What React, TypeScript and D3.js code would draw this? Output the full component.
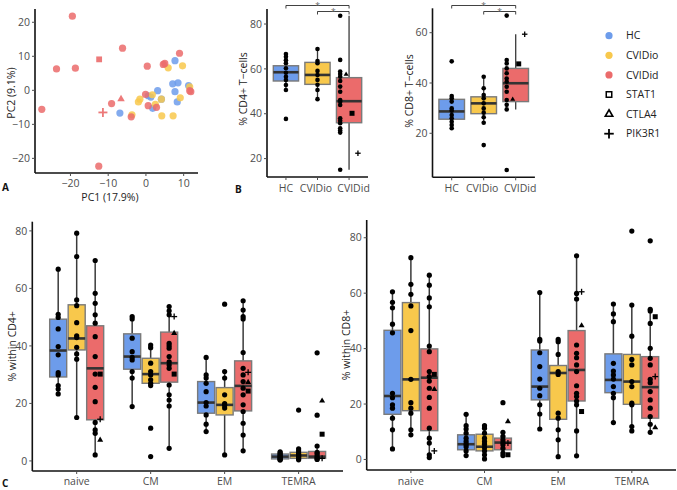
import React from "react";
import * as d3 from "d3";

const FONT = "'Open Sans', 'DejaVu Sans', sans-serif";
const groups = ["HC", "CVIDio", "CVIDid"];
const groupColors = ["#6D9CEB", "#F8C84C", "#EB6B6B"];
const mutations = ["STAT1", "CTLA4", "PIK3R1"];
const subsets = ["naive", "CM", "EM", "TEMRA"];

// ---------- Panel A (PCA) ----------
const pcaXTicks = [-20, -10, 0, 10];
const pcaYTicks = [-20, -10, 0, 10, 20];
const pcaHC = [[7.7, 8.7], [7.1, 1.9], [8.5, 2.2], [11.3, 1.4], [7.7, -0.4], [8.3, -3.4], [3.1, -0.1], [4.1, -2.6], [0.6, -1.6], [1.3, -2.0], [1.8, -5.3], [-6.9, -6.7]];
const pcaCVIDio = [[5.9, 6.6], [9.7, 7.2], [11.6, 1.0], [9.1, -2.2], [7.2, -7.5], [4.2, -7.5], [4.1, -2.6], [1.7, -1.3], [2.5, -4.1], [-1.6, -2.6], [-2.0, -3.4], [-3.7, -7.2]];
const pcaCVIDid = [[-19.5, 21.8], [-23.7, 6.3], [-18.7, 6.5], [-6.2, 12.4], [0.35, 7.1], [4.6, 7.6], [5.0, 7.9], [8.9, 10.9], [11.9, -0.4], [11.6, -0.1], [-0.1, -1.2], [0.6, -4.5], [2.8, -5.0], [-3.9, -7.8], [-9.1, -3.9], [-27.6, -5.6], [-12.5, -22.3]];
const pcaMutations = [[-12.4, 9.1], [-6.6, -2.6], [-11.4, -6.5]]; // STAT1, CTLA4, PIK3R1

// ---------- Panel B ----------
const cd4Ticks = [20, 40, 60, 80];
const cd8Ticks = [20, 40, 60];
const cd4HC = [66.6, 65.4, 63.9, 62.5, 60.3, 58.3, 56.5, 55.0, 52.8, 50.6, 37.7];
const cd4CVIDio = [68.9, 63.5, 62.5, 59.1, 57.3, 55.1, 52.9, 50.6, 46.5];
const cd4CVIDid = [83.7, 64.0, 58.8, 57.7, 56.5, 54.6, 52.1, 49.8, 46.1, 45.4, 43.9, 38.0, 36.9, 35.8, 33.5, 32.5, 31.6, 15.0];
const cd4Mut = [40.2, 57.6, 22.4];
// [q1, median, q3, whiskerLow, whiskerHigh]
const cd4Box = [[54.6, 58.5, 61.4, 50.6, 66.6], [53.1, 57.3, 62.9, 46.5, 68.9], [36.0, 45.6, 56.1, 15.0, 83.7]];
const cd8HC = [48.6, 34.8, 33.9, 32.6, 29.9, 29.0, 27.3, 26.0, 24.6, 23.3, 22.0];
const cd8CVIDio = [42.5, 37.9, 35.2, 33.9, 31.9, 29.9, 28.2, 26.4, 24.2, 15.3];
const cd8CVIDid = [66.8, 49.1, 47.8, 45.8, 43.9, 41.8, 40.5, 38.5, 36.5, 33.2, 31.3, 29.5, 5.4];
const cd8Mut = [47.6, 33.5, 59.4];
const cd8Box = [[25.6, 28.7, 33.5, 22.0, 34.8], [27.8, 31.9, 34.5, 24.2, 42.5], [32.6, 39.9, 45.8, 29.5, 59.4]];

// ---------- Panel C (CD4) ----------
const cTicks = [0, 20, 40, 60, 80];
const c4HC = [
  [66.7, 51.0, 49.9, 45.9, 39.8, 36.9, 30.7, 29.9, 26.2, 25.0, 23.3],
  [50.2, 49.4, 42.7, 38.0, 36.0, 35.1, 31.1, 28.8, 18.9],
  [36.0, 29.9, 28.8, 27.0, 24.1, 20.3, 19.1, 16.0, 12.8, 10.2],
  [3.2, 2.8, 2.4, 2.0, 1.6, 1.3, 1.0, 0.7, 0.5, 0.3],
];
const c4CVIDio = [
  [79.2, 71.1, 56.0, 54.0, 48.1, 43.5, 42.9, 39.5, 37.2, 35.4, 15.1],
  [40.3, 39.4, 34.0, 31.1, 29.9, 28.2, 27.0, 26.2, 11.4, 1.5],
  [54.5, 31.1, 28.8, 23.0, 19.9, 19.4, 18.4, 2.1],
  [17.7, 4.2, 3.5, 2.8, 2.3, 1.9, 1.5, 1.2, 0.8, 0.4],
];
const c4CVIDid = [
  [69.7, 58.3, 54.8, 50.8, 47.9, 43.2, 36.3, 30.2, 25.6, 20.6, 13.4, 10.8, 9.6, 2.1],
  [53.7, 52.2, 50.8, 40.9, 40.1, 39.2, 36.3, 34.5, 33.4, 32.2, 26.4, 23.0, 21.2, 19.1, 4.4],
  [55.7, 52.5, 50.2, 49.4, 37.7, 32.2, 29.9, 27.6, 25.3, 23.0, 19.5, 17.2, 13.1, 9.0, 3.5],
  [37.6, 15.9, 5.2, 3.0, 2.5, 1.8, 1.2, 0.8, 0.5],
];
const c4BoxHC = [[29.2, 38.4, 49.3, 23.3, 66.7], [31.9, 36.3, 44.2, 18.9, 50.2], [16.6, 20.3, 27.6, 10.2, 36.0], [0.7, 1.5, 2.4, 0.3, 3.2]];
const c4BoxCVIDio = [[38.6, 42.6, 54.3, 15.1, 79.2], [27.0, 30.2, 35.7, 26.2, 40.3], [16.0, 19.5, 25.5, 2.1, 31.1], [0.9, 1.9, 3.0, 0.3, 4.2]];
const c4BoxCVIDid = [[14.3, 32.2, 47.0, 2.1, 69.7], [27.4, 34.0, 44.8, 4.4, 53.7], [17.4, 26.1, 34.8, 3.5, 55.7], [0.9, 1.5, 3.3, 0.3, 5.2]];
const c4STAT1 = [30.2, 30.2, 24.3, 9.3];
const c4CTLA4 = [7.3, 44.4, 27.4, 20.9];
const c4PIK3R1 = [14.5, 50.2, 30.8, 0.9];

// ---------- Panel C (CD8) ----------
const c8HC = [
  [60.5, 56.7, 54.7, 48.8, 45.7, 23.9, 22.3, 19.7, 18.5, 14.9, 10.7, 3.8],
  [16.3, 12.2, 11.0, 9.5, 7.7, 6.5, 5.5, 4.6, 3.1, 1.4],
  [60.2, 43.3, 42.7, 38.5, 33.5, 29.0, 25.7, 23.0, 19.7, 16.4, 11.0],
  [56.1, 52.5, 49.7, 34.7, 31.9, 30.5, 29.0, 26.3, 23.9, 22.3, 13.3],
];
const c8CVIDio = [
  [72.8, 63.2, 59.6, 55.4, 46.5, 28.9, 20.5, 18.5, 16.7, 10.7, 8.9],
  [12.2, 11.3, 9.5, 7.7, 6.5, 5.5, 4.3, 3.1, 1.7, 0.2],
  [43.3, 42.5, 37.9, 31.7, 30.7, 16.7, 14.9, 10.7, 7.1, 1.0],
  [82.4, 55.7, 44.5, 36.1, 34.1, 28.1, 26.3, 20.3, 19.7, 11.9, 10.3],
];
const c8CVIDid = [
  [66.5, 62.9, 58.3, 55.1, 40.9, 38.9, 31.7, 29.9, 28.3, 25.7, 22.4, 18.5, 11.3, 7.7, 5.9, 1.7, 0.7],
  [20.5, 9.8, 8.3, 7.1, 6.1, 5.3, 4.0, 2.3, 1.4],
  [73.5, 59.9, 57.9, 41.3, 38.3, 36.7, 34.1, 31.7, 26.6, 23.9, 22.7, 21.1, 19.7, 10.3, 1.3],
  [78.9, 54.2, 53.6, 49.1, 40.1, 36.5, 34.1, 28.9, 27.7, 24.5, 21.5, 18.5, 15.5, 12.7, 9.8],
];
const c8BoxHC = [[16.3, 22.9, 46.6, 3.8, 60.5], [3.5, 5.5, 8.9, 1.4, 16.3], [21.5, 26.3, 39.5, 11.0, 60.2], [24.1, 28.7, 38.1, 13.3, 56.1]];
const c8BoxCVIDio = [[17.6, 28.9, 56.6, 8.9, 72.8], [3.1, 4.6, 9.1, 0.2, 12.5], [14.5, 31.2, 33.9, 1.0, 43.3], [19.9, 28.1, 37.9, 10.3, 55.7]];
const c8BoxCVIDid = [[10.4, 29.5, 39.9, 0.7, 66.5], [3.5, 6.1, 7.7, 1.4, 9.8], [21.1, 32.3, 46.5, 1.3, 73.5], [14.9, 26.1, 37.1, 9.8, 54.2]];
const c8STAT1 = [30.7, 1.7, 17.3, 51.5];
const c8CTLA4 = [25.3, 13.7, 48.3, 11.5];
const c8PIK3R1 = [3.1, 5.9, 60.5, 29.9];

const TICK_COL = "#4d4d4d";
const AXIS_COL = "#111";
const BOX_STROKE = "#7a7a7a";
const WHISK = "#3a3a3a";
const MEDIAN = "#333";

function Mark({ kind, x, y, s, color, hollow }: any) {
  if (kind === 0) {
    return <rect x={x - s / 2} y={y - s / 2} width={s} height={s} fill={hollow ? "none" : color} stroke={hollow ? color : "none"} strokeWidth={1.5} />;
  }
  if (kind === 1) {
    const h = s * 0.866;
    const d = `M${x},${y - (2 * h) / 3}L${x + s / 2},${y + h / 3}L${x - s / 2},${y + h / 3}Z`;
    return <path d={d} fill={hollow ? "none" : color} stroke={hollow ? color : "none"} strokeWidth={1.6} strokeLinejoin="miter" />;
  }
  const r = s / 2;
  return (
    <g stroke={color} strokeWidth={hollow ? 1.8 : 1.3}>
      <line x1={x - r} x2={x + r} y1={y} y2={y} />
      <line x1={x} x2={x} y1={y - r} y2={y + r} />
    </g>
  );
}

function YAxis({ scale, x, ticks, top, bottom, gap = 5 }: any) {
  return (
    <g>
      <line x1={x} x2={x} y1={top} y2={bottom} stroke={AXIS_COL} strokeWidth={1.6} />
      {ticks.map((t: number) => (
        <g key={t}>
          <line x1={x - 3} x2={x} y1={scale(t)} y2={scale(t)} stroke={TICK_COL} strokeWidth={1} />
          <text x={x - gap} y={scale(t)} dy="0.35em" textAnchor="end" fontSize={10.5} fill={TICK_COL} fontFamily={FONT}>
            {t < 0 ? "\u2212" + Math.abs(t) : t}
          </text>
        </g>
      ))}
    </g>
  );
}

function XAxis({ y, x0, x1, ticks, labelY }: any) {
  return (
    <g>
      <line x1={x0} x2={x1} y1={y} y2={y} stroke={AXIS_COL} strokeWidth={1.6} />
      {ticks.map((t: any, i: number) => (
        <g key={i}>
          <line x1={t.x} x2={t.x} y1={y} y2={y + 3} stroke={TICK_COL} strokeWidth={1} />
          <text x={t.x + (t.dx || 0)} y={labelY} textAnchor="middle" fontSize={10.5} fill={TICK_COL} fontFamily={FONT}>
            {t.label}
          </text>
        </g>
      ))}
    </g>
  );
}

function Box({ cx, w, stats, y, fill, whiskW = 1.3 }: any) {
  const [q1, med, q3, lo, hi] = stats;
  return (
    <g>
      <line x1={cx} x2={cx} y1={y(hi)} y2={y(q3)} stroke={WHISK} strokeWidth={whiskW} />
      <line x1={cx} x2={cx} y1={y(q1)} y2={y(lo)} stroke={WHISK} strokeWidth={whiskW} />
      <rect x={cx - w / 2} y={y(q3)} width={w} height={Math.max(0.5, y(q1) - y(q3))} fill={fill} stroke={BOX_STROKE} strokeWidth={1.4} />
      <line x1={cx - w / 2} x2={cx + w / 2} y1={y(med)} y2={y(med)} stroke={MEDIAN} strokeWidth={2.6} />
    </g>
  );
}

function PanelA() {
  const x = d3.scaleLinear().domain([-29.4, 13.8]).range([35, 198]);
  const y = d3.scaleLinear().domain([-24.3, 23.9]).range([173, 9]);
  const sets = [pcaHC, pcaCVIDio, pcaCVIDid];
  return (
    <g>
      {sets.map((pts, gi) =>
        pts.map((p, i) => <circle key={gi + "-" + i} cx={x(p[0])} cy={y(p[1])} r={3.6} fill={groupColors[gi]} fillOpacity={0.85} />)
      )}
      {pcaMutations.map((p, k) => (
        <g key={"m" + k} opacity={0.9}>
          <Mark kind={k} x={x(p[0])} y={y(p[1])} s={k === 2 ? 9 : k === 1 ? 7.5 : 5.8} color={groupColors[2]} hollow={k === 2} />
        </g>
      ))}
      <YAxis scale={y} x={35} ticks={pcaYTicks} top={9} bottom={173} />
      <XAxis y={173} x0={35} x1={198} ticks={pcaXTicks.map((t) => ({ x: x(t), label: t < 0 ? "\u2212" + Math.abs(t) : String(t) }))} labelY={187} />
      <text transform="translate(15,93) rotate(-90)" textAnchor="middle" fontSize={10.5} fill="#222" fontFamily={FONT}>{"PC2 (9.1%)"}</text>
      <text x={110} y={201} textAnchor="middle" fontSize={10.5} fill="#222" fontFamily={FONT}>{"PC1 (17.9%)"}</text>
    </g>
  );
}

const bLabelShift = [0, -1.5, 4.5];

function PanelB({ x0, x1, yDomain, top, bottom, ticks, pts, boxes, muts, title, titleX, titleY }: any) {
  const x = d3.scalePoint().domain(groups).range([x0, x1]).padding(0.6);
  const step = x.step();
  const y = d3.scaleLinear().domain(yDomain).range([bottom, top]);
  const bw = step * 0.8;
  const dodge = step * 0.1875;
  const cid = x("CVIDid")!;
  const hcx = x("HC")!;
  const iox = x("CVIDio")!;
  return (
    <g>
      {groups.map((g, gi) => (
        <Box key={g} cx={x(g)} w={bw} stats={boxes[gi]} y={y} fill={groupColors[gi]} whiskW={1.3} />
      ))}
      {pts.map((arr: number[], gi: number) =>
        arr.map((v, i) => (
          <circle key={gi + "-" + i} cx={gi === 2 ? cid - 1.5 * dodge : x(groups[gi])!} cy={y(v)} r={2.3} fill="#000" />
        ))
      )}
      {muts.map((v: number, k: number) => (
        <Mark key={k} kind={k} x={cid + (k === 0 ? 0.5 : k === 1 ? -0.5 : 1.5) * dodge} y={y(v)} s={k === 2 ? 5.5 : 5} color="#000" />
      ))}
      <YAxis scale={y} x={x0} ticks={ticks} top={top} bottom={bottom} />
      <XAxis y={bottom} x0={x0} x1={x1} ticks={groups.map((g, i) => ({ x: x(g), label: g, dx: bLabelShift[i] }))} labelY={191.5} />
      <text transform={`translate(${titleX},${titleY}) rotate(-90)`} textAnchor="middle" fontSize={10.5} fill="#222" fontFamily={FONT}>{title}</text>
      {/* significance brackets */}
      <g stroke="#111" strokeWidth={0.8} fill="none">
        <path d={`M${hcx},8.5V5.5H${cid}V8.5`} />
        <path d={`M${iox},14.5V11.5H${cid}V14.5`} />
      </g>
      <text x={(hcx + cid) / 2} y={9} textAnchor="middle" fontSize={8.5} fill="#666" fontFamily={FONT}>*</text>
      <text x={(iox + cid) / 2} y={15} textAnchor="middle" fontSize={8.5} fill="#666" fontFamily={FONT}>*</text>
    </g>
  );
}

function PanelC({ x0, x1, yDomain, top, bottom, pts, boxes, muts, title, titleX }: any) {
  const x = d3.scalePoint().domain(subsets).range([x0, x1]).padding(0.6);
  const step = x.step();
  const slot = step * 0.25;
  const bw = step * 0.23;
  const y = d3.scaleLinear().domain(yDomain).range([bottom, top]);
  return (
    <g>
      {subsets.map((s, si) =>
        groups.map((g, gi) => (
          <Box key={s + g} cx={x(s)! + (gi - 1) * slot} w={bw} stats={boxes[gi][si]} y={y} fill={groupColors[gi]} whiskW={1.5} />
        ))
      )}
      {subsets.map((s, si) =>
        groups.map((g, gi) =>
          pts[gi][si].map((v: number, i: number) => (
            <circle key={s + g + i} cx={x(s)! + (gi - 1) * slot} cy={y(v)} r={2.6} fill="#000" />
          ))
        )
      )}
      {subsets.map((s, si) =>
        muts.map((arr: number[], k: number) => (
          <Mark key={s + k} kind={k} x={x(s)! + slot + 5} y={y(arr[si])} s={k === 2 ? 6 : k === 1 ? 6 : 5} color="#000" />
        ))
      )}
      <YAxis scale={y} x={x0} ticks={cTicks} top={top} bottom={bottom} />
      <XAxis y={bottom} x0={x0} x1={x1} ticks={subsets.map((s) => ({ x: x(s), label: s }))} labelY={484.5} />
      <text transform={`translate(${titleX},${(top + bottom) / 2}) rotate(-90)`} textAnchor="middle" fontSize={10.5} fill="#222" fontFamily={FONT}>{title}</text>
    </g>
  );
}

function Legend() {
  const x = 609;
  const y0 = 35.7;
  const dy = 19.6;
  return (
    <g fontFamily={FONT} fontSize={10.5} fill="#222">
      {groups.map((g, i) => (
        <g key={g}>
          <circle cx={x} cy={y0 + i * dy} r={3.6} fill={groupColors[i]} />
          <text x={626} y={y0 + i * dy} dy="0.35em">{g}</text>
        </g>
      ))}
      {mutations.map((m, k) => (
        <g key={m}>
          <Mark kind={k} x={x} y={y0 + (k + 3) * dy} s={k === 2 ? 9.5 : k === 1 ? 7.5 : 5.5} color="#000" hollow />
          <text x={626} y={y0 + (k + 3) * dy} dy="0.35em">{m}</text>
        </g>
      ))}
    </g>
  );
}

export default function App() {
  return (
    <svg width={677} height={490} viewBox="0 0 677 490" style={{ position: "absolute", left: 0, top: 0, background: "#fff", display: "block" }}>
      <rect width={677} height={490} fill="#fff" />
      <PanelA />
      <PanelB x0={267} x1={368} yDomain={[11.8, 86.7]} top={9} bottom={177} ticks={cd4Ticks}
        pts={[cd4HC, cd4CVIDio, cd4CVIDid]} boxes={cd4Box} muts={cd4Mut} title={"% CD4+ T\u2212cells"} titleX={247} titleY={89} />
      <PanelB x0={432.5} x1={534.9} yDomain={[2.5, 69.7]} top={8.3} bottom={177.3} ticks={cd8Ticks}
        pts={[cd8HC, cd8CVIDio, cd8CVIDid]} boxes={cd8Box} muts={cd8Mut} title={"% CD8+ T\u2212cells"} titleX={413} titleY={91} />
      <Legend />
      <PanelC x0={32.3} x1={343} yDomain={[-3.5, 83.2]} top={221.7} bottom={471}
        pts={[c4HC, c4CVIDio, c4CVIDid]} boxes={[c4BoxHC, c4BoxCVIDio, c4BoxCVIDid]} muts={[c4STAT1, c4CTLA4, c4PIK3R1]}
        title="% within CD4+" titleX={16} />
      <PanelC x0={366.7} x1={676} yDomain={[-3.8, 86.4]} top={220} bottom={470}
        pts={[c8HC, c8CVIDio, c8CVIDid]} boxes={[c8BoxHC, c8BoxCVIDio, c8BoxCVIDid]} muts={[c8STAT1, c8CTLA4, c8PIK3R1]}
        title="% within CD8+" titleX={350} />
      <g fontFamily={FONT} fontWeight="bold" fontSize={10} fill="#111">
        <text x={2} y={191}>A</text>
        <text x={235} y={193}>B</text>
        <text x={2} y={487}>C</text>
      </g>
    </svg>
  );
}
